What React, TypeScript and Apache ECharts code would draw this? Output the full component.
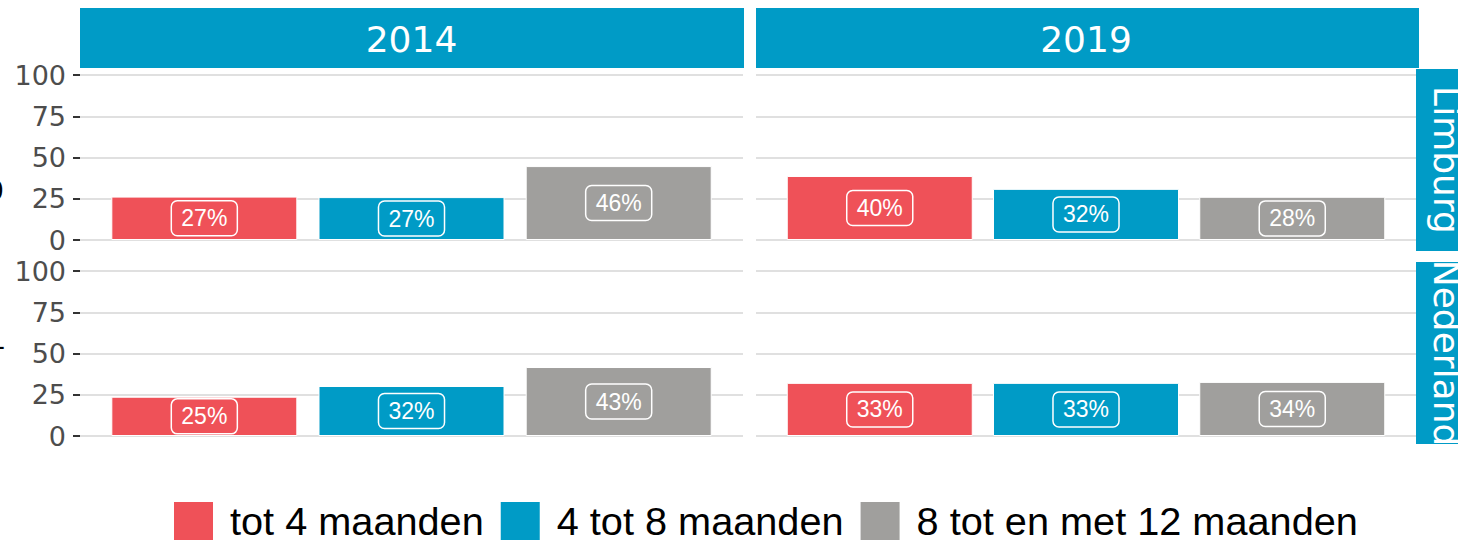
import React, { useEffect, useRef } from "react";
import * as echarts from "echarts";

const years = ["2014", "2019"];
const regions = ["Limburg", "Nederland"];
const categories = ["tot 4 maanden", "4 tot 8 maanden", "8 tot en met 12 maanden"];
const colors = ["#ef5158", "#009bc6", "#a09f9d"];
const yTicks = [0, 25, 50, 75, 100];

// bar heights and their labels
const limburg2014 = [26.3, 26.0, 44.8];
const limburg2019 = [38.8, 31.0, 26.2];
const nederland2014 = [23.8, 30.3, 41.8];
const nederland2019 = [32.2, 32.2, 32.8];
const limburg2014Labels = ["27%", "27%", "46%"];
const limburg2019Labels = ["40%", "32%", "28%"];
const nederland2014Labels = ["25%", "32%", "43%"];
const nederland2019Labels = ["33%", "33%", "34%"];

const panelValues = [limburg2014, limburg2019, nederland2014, nederland2019];
const panelLabels = [limburg2014Labels, limburg2019Labels, nederland2014Labels, nederland2019Labels];

const STRIP = "#009bc6";
const gridLeft = [80, 756];
const gridWidth = [663, 660];
const gridTop = [75, 271];
const gridHeight = 165;

export default function App() {
  const ref = useRef<HTMLDivElement>(null);
  useEffect(() => {
    if (!ref.current) return;
    const chart = echarts.init(ref.current, undefined, { renderer: "svg" });
    const grids: any[] = [];
    const xAxes: any[] = [];
    const yAxes: any[] = [];
    const series: any[] = [];
    for (let r = 0; r < 2; r++) {
      for (let c = 0; c < 2; c++) {
        const p = r * 2 + c;
        grids.push({ left: gridLeft[c], width: gridWidth[c], top: gridTop[r], height: gridHeight, containLabel: false });
        xAxes.push({ type: "value", gridIndex: p, min: 0.4, max: 3.6, show: false });
        yAxes.push({
          type: "value",
          gridIndex: p,
          min: yTicks[0],
          max: yTicks[yTicks.length - 1],
          interval: 25,
          axisLine: { show: false },
          axisTick: { show: c === 0, length: 7, lineStyle: { color: "#333", width: 2 } },
          axisLabel: {
            show: c === 0,
            margin: 14,
            fontSize: 27,
            fontFamily: "DejaVu Sans",
            color: "#4d4d4d",
          },
          splitLine: { show: true, lineStyle: { color: "#e0e0e0", width: 2 } },
        });
        categories.forEach((name, k) => {
          series.push({
            type: "bar",
            name,
            xAxisIndex: p,
            yAxisIndex: p,
            data: [[k + 1, panelValues[p][k]]],
            barWidth: 186,
            barGap: "-100%",
            itemStyle: { color: colors[k], borderColor: "#fff", borderWidth: 1 },
            label: {
              show: true,
              position: "inside",
              formatter: panelLabels[p][k],
              color: "#fff",
              fontSize: 23,
              lineHeight: 23,
              fontFamily: "Liberation Sans",
              borderColor: "#fff",
              borderWidth: 1.5,
              borderRadius: 6,
              padding: [6, 10],
            },
          });
        });
      }
    }
    const graphic: any[] = [];
    years.forEach((y, c) => {
      graphic.push({ type: "rect", shape: { x: gridLeft[c], y: 8, width: c === 0 ? 664 : 663, height: 60 }, style: { fill: STRIP } });
      graphic.push({
        type: "text",
        x: gridLeft[c] + gridWidth[c] / 2,
        y: 39,
        style: { text: y, fill: "#fff", fontSize: 36, fontFamily: "DejaVu Sans", align: "center", verticalAlign: "middle" },
      });
    });
    const stripTops = [69, 262];
    regions.forEach((reg, r) => {
      graphic.push({ type: "rect", shape: { x: 1416, y: stripTops[r], width: 60, height: 182 }, style: { fill: STRIP } });
      graphic.push({
        type: "text",
        x: 1446,
        y: stripTops[r] + 91,
        rotation: -Math.PI / 2,
        style: { text: reg, fill: "#fff", fontSize: 36, fontFamily: "DejaVu Sans", align: "center", verticalAlign: "middle" },
      });
    });
    graphic.push({ type: "text", x: 4, y: 190, style: { text: "0", fill: "#000", fontSize: 27, fontFamily: "DejaVu Sans", align: "right", verticalAlign: "middle" } });
    graphic.push({ type: "text", x: 5, y: 345, style: { text: "-", fill: "#000", fontSize: 27, fontFamily: "DejaVu Sans", align: "right", verticalAlign: "middle" } });

    chart.setOption({
      animation: false,
      backgroundColor: "#fff",
      grid: grids,
      xAxis: xAxes,
      yAxis: yAxes,
      series,
      graphic,
      legend: {
        top: 500,
        left: 172,
        padding: 0,
        itemWidth: 41,
        itemHeight: 40,
        itemGap: 15,
        icon: "rect",
        selectedMode: false,
        data: categories,
        textStyle: { fontSize: 39.7, fontFamily: "Liberation Sans", color: "#000", padding: [0, 0, 0, 11] },
      },
    });
    return () => chart.dispose();
  }, []);
  return <div ref={ref} style={{ position: "fixed", left: 0, top: 0, width: 1458, height: 540 }} />;
}
